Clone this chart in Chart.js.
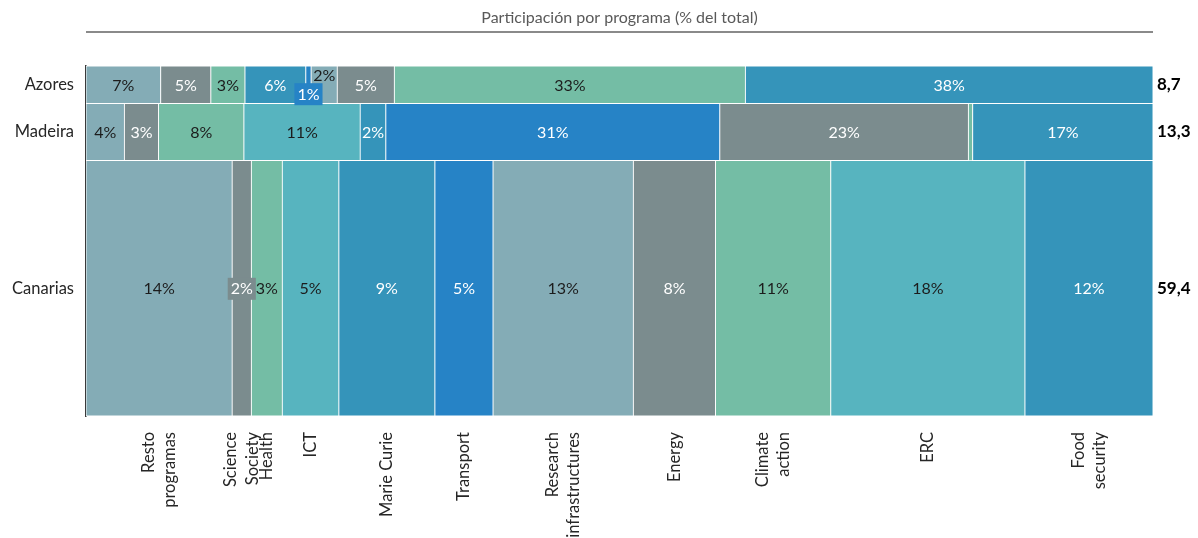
<!DOCTYPE html>
<html><head><meta charset="utf-8">
<script src="https://cdn.jsdelivr.net/npm/chart.js@4.4.1/dist/chart.umd.min.js"></script>
<style>html,body{margin:0;padding:0;background:#fff;} #wrap{width:1198px;height:538px;}</style>
</head><body><div id="wrap"><canvas id="c" width="1198" height="538"></canvas></div>
<script>
// ---- data ----
const regions = ['Azores', 'Madeira', 'Canarias'];
const regionTotals = [8.7, 13.3, 59.4];
const programs = ['Resto programas', 'Science Society', 'Health', 'ICT', 'Marie Curie', 'Transport',
  'Research infrastructures', 'Energy', 'Climate action', 'ERC', 'Food security'];
const programTickLabels = [['Resto', 'programas'], ['Science', 'Society'], 'Health', 'ICT', 'Marie Curie',
  'Transport', ['Research', 'infrastructures'], 'Energy', ['Climate', 'action'], 'ERC', ['Food', 'security']];
const sharesAzores   = [7.0, 4.7, 3.2, 0, 5.7, 0.5, 2.45, 5.35, 32.9, 0, 38.2];
const sharesMadeira  = [3.6, 3.2, 8.0, 10.9, 2.4, 31.3, 0, 23.3, 0.4, 0, 16.9];
const sharesCanarias = [13.7, 1.8, 2.9, 5.3, 9.0, 5.45, 13.15, 7.7, 10.8, 18.2, 12.0];
const shares = [sharesAzores, sharesMadeira, sharesCanarias];
const titleText = 'Participación por programa (% del total)';

// ---- styles ----
const programColors = ['#84ACB6', '#7B8C8E', '#74BDA5', '#57B4BF', '#3594BA', '#2683C6',
  '#84ACB6', '#7B8C8E', '#74BDA5', '#57B4BF', '#3594BA'];
const whiteText = [false, true, false, false, true, true, false, true, false, false, true];
const labelStyles = {
  'Azores|Transport': {dy: 9, box: true},
  'Azores|Research infrastructures': {dy: -10},
  'Canarias|Science Society': {box: true}
};
const FONT = 'Lato, "Open Sans", sans-serif';

// ---- derived ----
const rowStart = regionTotals.map((_, i) => regionTotals.slice(0, i).reduce((a, b) => a + b, 0));
const grandTotal = regionTotals.reduce((a, b) => a + b, 0);
const rowCenters = regionTotals.map((t, i) => rowStart[i] + t / 2);

const datasets = regions.map((r, ri) => {
  let cum = 0;
  const pts = [];
  shares[ri].forEach((v, pi) => {
    if (v > 0) pts.push({x: [cum, cum + v], y: rowCenters[ri], p: pi, v: v});
    cum += v;
  });
  return {
    label: r,
    data: pts,
    backgroundColor: pts.map(p => programColors[p.p]),
    borderColor: '#ffffff',
    borderWidth: 0.8,
    borderSkipped: false,
    grouped: false,
    barThickness: (ctx) => {
      const y = ctx.chart.scales.y;
      return Math.abs(y.getPixelForValue(rowStart[ri] + regionTotals[ri]) - y.getPixelForValue(rowStart[ri]));
    }
  };
});

const segLabels = {
  id: 'segLabels',
  afterDatasetsDraw(chart) {
    const ctx = chart.ctx;
    ctx.save();
    ctx.font = '16px ' + FONT;
    ctx.textAlign = 'center';
    ctx.textBaseline = 'middle';
    chart.data.datasets.forEach((ds, di) => {
      const meta = chart.getDatasetMeta(di);
      meta.data.forEach((el, j) => {
        const raw = ds.data[j];
        const pct = Math.round(raw.v);
        if (pct === 0) return;
        const {x, base, y} = el.getProps(['x', 'base', 'y'], true);
        const st = labelStyles[regions[di] + '|' + programs[raw.p]] || {};
        const cx = (x + base) / 2, cy = y + (st.dy || 0);
        const text = pct + '%';
        if (st.box) {
          const w = ctx.measureText(text).width + 6;
          ctx.fillStyle = programColors[raw.p];
          ctx.fillRect(cx - w / 2, cy - 10.5, w, 22);
        }
        ctx.fillStyle = whiteText[raw.p] ? '#ffffff' : '#1c1c1c';
        ctx.fillText(text, cx, cy + 1);
      });
    });
    ctx.restore();
  }
};

// centre multi-line rotated tick labels on their tick
const centerMultiline = {
  id: 'centerMultiline',
  beforeDraw(chart) {
    const xs = chart.scales.x;
    const items = xs.getLabelItems(chart.chartArea);
    if (items._centered) return;
    items._centered = true;
    items.forEach(it => {
      if (Array.isArray(it.label) && it.label.length > 1) {
        it.options.translation[0] -= it.font.lineHeight * (it.label.length - 1) / 2;
      }
    });
  }
};

const underline = {
  id: 'underline',
  afterDraw(chart) {
    const {ctx, chartArea} = chart;
    const tb = chart.titleBlock;
    const y = tb.top + 32;
    ctx.save();
    ctx.strokeStyle = '#8a8a8a';
    ctx.lineWidth = 2;
    ctx.beginPath();
    ctx.moveTo(chartArea.left, y);
    ctx.lineTo(chartArea.right, y);
    ctx.stroke();
    ctx.restore();
  }
};

new Chart(document.getElementById('c'), {
  type: 'bar',
  data: {datasets},
  options: {
    indexAxis: 'y',
    responsive: false,
    animation: false,
    devicePixelRatio: 1,
    layout: {padding: 0},
    plugins: {
      legend: {display: false},
      tooltip: {enabled: false},
      title: {
        display: true, text: titleText, fullSize: false, color: '#595959',
        font: {family: FONT, size: 16, weight: 'normal', lineHeight: 1.2},
        padding: {top: 8, bottom: 38.8}
      }
    },
    scales: {
      x: {
        type: 'linear', min: 0, max: 100, position: 'bottom',
        grid: {display: false, drawTicks: false},
        border: {display: false},
        afterBuildTicks: (s) => {
          let cum = 0;
          s.ticks = sharesCanarias.map(v => { const c = cum + v / 2; cum += v; return {value: c}; });
        },
        afterFit: (s) => { s.height = 122; },
        ticks: {
          autoSkip: false, minRotation: 90, maxRotation: 90, padding: 16,
          color: '#262626', font: {family: FONT, size: 16.5, lineHeight: 1.3},
          callback: (v, i) => programTickLabels[i]
        }
      },
      y: {
        type: 'linear', min: 0, max: grandTotal, reverse: true, offset: false, position: 'left',
        grid: {display: false, offset: false, drawTicks: false},
        border: {display: true, color: '#3a3a3a', width: 1.5},
        afterBuildTicks: (s) => { s.ticks = rowCenters.map(v => ({value: v})); },
        afterFit: (s) => { s.width = 86; },
        ticks: {
          padding: 12, color: '#262626', font: {family: FONT, size: 16.5},
          callback: (v, i) => regions[i]
        }
      },
      y2: {
        type: 'linear', min: 0, max: grandTotal, reverse: true, offset: false, position: 'right',
        grid: {display: false, drawTicks: false},
        border: {display: false},
        afterBuildTicks: (s) => { s.ticks = rowCenters.map(v => ({value: v})); },
        afterFit: (s) => { s.width = 45; },
        ticks: {
          padding: 4, color: '#000000', font: {family: FONT, size: 17, weight: 'bold'},
          callback: (v, i) => regionTotals[i].toFixed(1).replace('.', ',')
        }
      }
    }
  },
  plugins: [segLabels, centerMultiline, underline]
});
</script>
</body></html>
